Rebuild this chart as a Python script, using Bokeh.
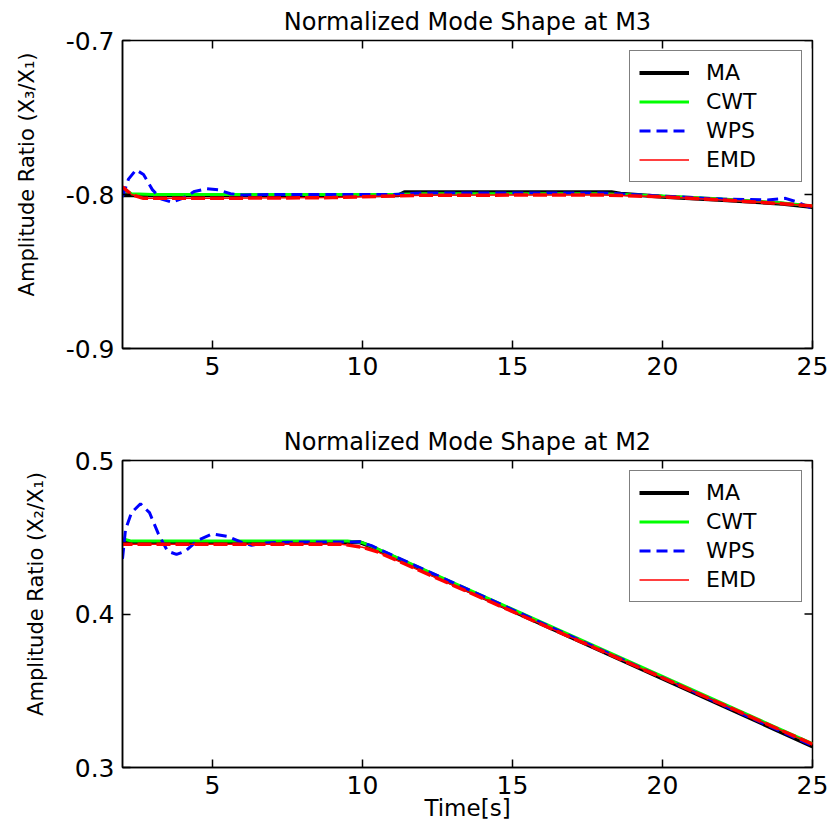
import math
from bokeh.plotting import figure
from bokeh.layouts import column
from bokeh.models import (FixedTicker, PrintfTickFormatter, Range1d, Legend, LegendItem)
from bokeh.embed import file_html
from bokeh.resources import INLINE

# ---------------- data: top panel (M3) ----------------
ma_top_t = [2.0, 11.2, 11.4, 18.3, 18.6, 20.0, 22.0, 24.0, 25.0]
ma_top_v = [-0.8005, -0.8005, -0.7985, -0.7985, -0.7995, -0.8015, -0.8035, -0.8060, -0.8082]

cwt_top_t = [2.0, 2.3, 3.0, 11.0, 12.0, 18.0, 20.0, 22.0, 24.0, 25.0]
cwt_top_v = [-0.7970, -0.7995, -0.8000, -0.8000, -0.7995, -0.7995, -0.8010, -0.8030, -0.8055, -0.8075]

wps_top_t = [2.0, 2.2, 2.45, 2.7, 3.0, 3.3, 3.65, 4.0, 4.4, 4.8, 5.2, 5.6, 6.0, 7.0,
             11.0, 12.0, 18.0, 20.0, 22.0, 23.5, 24.1, 24.5, 25.0]
wps_top_v = [-0.8015, -0.7900, -0.7840, -0.7870, -0.7970, -0.8030, -0.8050, -0.8025,
             -0.7980, -0.7963, -0.7970, -0.7995, -0.8003, -0.8000, -0.8000, -0.7990,
             -0.7990, -0.8010, -0.8030, -0.8035, -0.8025, -0.8050, -0.8090]

emd_top_t = [2.0, 2.3, 2.7, 5.0, 9.0, 12.0, 18.0, 20.0, 22.0, 24.0, 25.0]
emd_top_v = [-0.7950, -0.8000, -0.8025, -0.8025, -0.8020, -0.8005, -0.8003, -0.8015,
             -0.8035, -0.8060, -0.8075]

# ---------------- data: bottom panel (M2) ----------------
ma_bot_t = [2.0, 9.9, 10.2, 25.0]
ma_bot_v = [0.4468, 0.4468, 0.4445, 0.3138]

cwt_bot_t = [2.0, 2.3, 9.5, 10.0, 10.5, 25.0]
cwt_bot_v = [0.4490, 0.4475, 0.4475, 0.4465, 0.4425, 0.3155]

wps_bot_t = [2.0, 2.1, 2.3, 2.6, 2.9, 3.2, 3.5, 3.8, 4.1, 4.5, 5.0, 5.5, 6.0, 6.3,
             6.7, 7.5, 9.9, 10.3, 25.0]
wps_bot_v = [0.4360, 0.4550, 0.4660, 0.4718, 0.4660, 0.4520, 0.4410, 0.4388, 0.4410,
             0.4480, 0.4522, 0.4505, 0.4465, 0.4448, 0.4462, 0.4468, 0.4470, 0.4445,
             0.3142]

emd_bot_t = [2.0, 9.3, 10.0, 10.5, 25.0]
emd_bot_v = [0.4455, 0.4455, 0.4435, 0.4405, 0.3152]

x_ticks = [5, 10, 15, 20, 25]
x_start = 2
top_y_ticks = [-0.9, -0.8, -0.7]
bot_y_ticks = [0.3, 0.4, 0.5]
series_names = ["MA", "CWT", "WPS", "EMD"]

FONT = "DejaVu Sans"
PAD = "\u00a0" * 6


def make_panel(title, ylabel, yticks, series, xlabel=None, top_border=40, bottom_border=52,
               frame_h=308):
    p = figure(width=830, frame_width=690, frame_height=frame_h,
               x_range=Range1d(x_start, x_ticks[-1]), y_range=Range1d(yticks[0], yticks[-1]),
               output_backend="svg", toolbar_location=None, tools="",
               min_border_left=122, min_border_right=18,
               min_border_top=top_border, min_border_bottom=bottom_border)
    p.title.text = title
    p.title.align = "center"
    p.title.text_font = FONT
    p.title.text_font_size = "24px"
    p.title.text_font_style = "normal"
    p.title.text_color = "black"
    p.title.standoff = 9
    p.xgrid.visible = False
    p.ygrid.visible = False
    p.outline_line_color = "black"
    p.outline_line_width = 1.5
    p.outline_line_alpha = 1.0
    p.background_fill_color = "white"
    p.border_fill_color = "white"

    for ax in p.xaxis:
        ax.ticker = FixedTicker(ticks=x_ticks)
        ax.formatter = PrintfTickFormatter(format="%d")
    for ax in p.yaxis:
        ax.ticker = FixedTicker(ticks=yticks)
        ax.formatter = PrintfTickFormatter(format="%.1f")
        ax.axis_label = PAD + ylabel
        ax.axis_label_standoff = 24
    for ax in list(p.xaxis) + list(p.yaxis):
        ax.major_tick_in = 8
        ax.major_tick_out = 0
        ax.minor_tick_line_color = None
        ax.major_label_text_font = FONT
        ax.major_label_text_font_size = "25px"
        ax.major_label_text_color = "black"
        ax.major_label_standoff = 8
        ax.axis_line_width = 1.5
        ax.major_tick_line_width = 1.5
        ax.axis_label_text_font = FONT
        ax.axis_label_text_font_size = "21px"
        ax.axis_label_text_font_style = "normal"
        ax.axis_label_text_color = "black"
    if xlabel:
        p.xaxis.axis_label = xlabel
        p.xaxis.axis_label_text_font_size = "23px"
        p.xaxis.axis_label_standoff = -2

    # mirrored inward ticks on the top and right edges (box style)
    p.ray(x=x_ticks, y=[yticks[-1]] * len(x_ticks), length=8, length_units="screen",
          angle=-math.pi / 2, line_color="black", line_width=1.5)
    p.ray(x=[x_ticks[-1]] * len(yticks), y=yticks, length=8, length_units="screen",
          angle=math.pi, line_color="black", line_width=1.5)

    (ma_t, ma_v), (cwt_t, cwt_v), (wps_t, wps_v), (emd_t, emd_v) = series
    r_ma = p.line(ma_t, ma_v, line_color="black", line_width=4)
    r_cwt = p.line(cwt_t, cwt_v, line_color="#00ff00", line_width=3)
    r_wps = p.line(wps_t, wps_v, line_color="#0000ff", line_width=3, line_dash="11 6")
    r_emd_key = p.line(emd_t, emd_v, line_color="#ff0000", line_width=1.5)
    p.line(emd_t, emd_v, line_color="#ff0000", line_width=3.5, line_dash="14 5",
           line_dash_offset=4)

    legend = Legend(items=[LegendItem(label=series_names[0], renderers=[r_ma]),
                           LegendItem(label=series_names[1], renderers=[r_cwt]),
                           LegendItem(label=series_names[2], renderers=[r_wps]),
                           LegendItem(label=series_names[3], renderers=[r_emd_key])],
                    location="top_right")
    legend.label_text_font = FONT
    legend.label_text_font_size = "22px"
    legend.label_text_color = "black"
    legend.glyph_width = 50
    legend.glyph_height = 21
    legend.label_height = 21
    legend.label_width = 86
    legend.label_standoff = 17
    legend.spacing = 4
    legend.padding = 9
    legend.margin = 10
    legend.border_line_color = "black"
    legend.border_line_width = 1.5
    legend.background_fill_color = "white"
    legend.background_fill_alpha = 1.0
    p.add_layout(legend, "center")
    return p


p1 = make_panel("Normalized Mode Shape at M3", "Amplitude Ratio (X\u2083/X\u2081)", top_y_ticks,
                [(ma_top_t, ma_top_v), (cwt_top_t, cwt_top_v),
                 (wps_top_t, wps_top_v), (emd_top_t, emd_top_v)],
                top_border=40, bottom_border=52, frame_h=308)
p2 = make_panel("Normalized Mode Shape at M2", "Amplitude Ratio (X\u2082/X\u2081)", bot_y_ticks,
                [(ma_bot_t, ma_bot_v), (cwt_bot_t, cwt_bot_v),
                 (wps_bot_t, wps_bot_v), (emd_bot_t, emd_bot_v)],
                xlabel="Time[s]", top_border=60, bottom_border=61, frame_h=307)

layout = column(p1, p2, spacing=0)
open("out.html", "w").write(file_html(layout, INLINE))
